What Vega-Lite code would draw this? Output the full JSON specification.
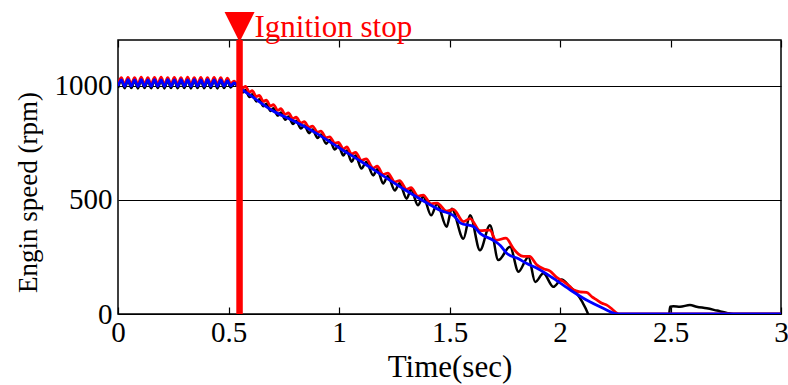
{
  "$schema": "https://vega.github.io/schema/vega-lite/v6.json",
  "width": 663,
  "height": 274,
  "autosize": {"type": "none"},
  "padding": {"left": 118, "top": 40, "right": 7, "bottom": 71},
  "background": "white",
  "config": {
    "view": {"stroke": "black", "strokeWidth": 1.5},
    "font": "Liberation Serif",
    "axis": {"labelFont": "Liberation Serif", "titleFont": "Liberation Serif", "labelColor": "black", "titleColor": "black", "titleFontWeight": "normal", "domain": false}
  },
  "datasets": {
    "black": [
      {"t":0,"v":990},{"t":0.015,"v":1022},{"t":0.03,"v":989},{"t":0.045,"v":1023},{"t":0.06,"v":990},{"t":0.075,"v":1022},{"t":0.09,"v":988},{"t":0.105,"v":1024},{"t":0.12,"v":990},{"t":0.135,"v":1022},{"t":0.15,"v":989},{"t":0.165,"v":1023},{"t":0.18,"v":990},{"t":0.195,"v":1024},{"t":0.21,"v":988},{"t":0.225,"v":1022},{"t":0.24,"v":990},{"t":0.255,"v":1023},{"t":0.27,"v":989},{"t":0.285,"v":1022},{"t":0.3,"v":990},{"t":0.315,"v":1024},{"t":0.33,"v":988},{"t":0.345,"v":1022},{"t":0.36,"v":990},{"t":0.375,"v":1023},{"t":0.39,"v":989},{"t":0.405,"v":1022},{"t":0.42,"v":990},{"t":0.435,"v":1023},{"t":0.45,"v":988},{"t":0.465,"v":1022},{"t":0.48,"v":990},{"t":0.495,"v":1020},{"t":0.51,"v":992},{"t":0.525,"v":1008},{"t":0.55,"v":990},
      {"t":0.565,"v":970},{"t":0.577,"v":981},{"t":0.595,"v":950},{"t":0.607,"v":962},{"t":0.626,"v":931},{"t":0.639,"v":941},{"t":0.658,"v":910},{"t":0.671,"v":921},{"t":0.69,"v":889},{"t":0.703,"v":901},{"t":0.723,"v":869},{"t":0.737,"v":883},{"t":0.757,"v":851},{"t":0.771,"v":865},{"t":0.792,"v":832},{"t":0.806,"v":846},{"t":0.828,"v":812},{"t":0.843,"v":826},{"t":0.865,"v":792},{"t":0.88,"v":808},{"t":0.903,"v":771},{"t":0.918,"v":786},{"t":0.942,"v":746},{"t":0.958,"v":762},{"t":0.981,"v":720},{"t":0.997,"v":738},
      {"t":1.02,"v":694},{"t":1.035,"v":716},{"t":1.057,"v":667},{"t":1.075,"v":694},{"t":1.102,"v":637},{"t":1.123,"v":666},{"t":1.155,"v":607},{"t":1.173,"v":634},{"t":1.2,"v":572},{"t":1.221,"v":604},{"t":1.253,"v":541},{"t":1.274,"v":573},{"t":1.306,"v":505},{"t":1.326,"v":545},{"t":1.357,"v":476},{"t":1.381,"v":514},{"t":1.417,"v":432},{"t":1.444,"v":482},{"t":1.487,"v":382},{"t":1.51,"v":461},{"t":1.563,"v":330},{"t":1.593,"v":432},{"t":1.638,"v":279},{"t":1.683,"v":389},{"t":1.721,"v":236},{"t":1.774,"v":294},{"t":1.812,"v":185},{"t":1.857,"v":250},{"t":1.888,"v":140},{"t":1.925,"v":178},{"t":1.97,"v":119},{"t":2.007,"v":151},{"t":2.045,"v":119},{"t":2.075,"v":91},{"t":2.1,"v":54},{"t":2.125,"v":5},{"t":2.14,"v":-40},{"t":2.49,"v":-40},{"t":2.498,"v":32},{"t":2.513,"v":34},{"t":2.543,"v":32},{"t":2.588,"v":39},{"t":2.618,"v":32},{"t":2.664,"v":25},{"t":2.71,"v":15},{"t":2.755,"v":5},{"t":2.785,"v":0},{"t":3,"v":0}
    ],
    "red": [
      {"t":0,"v":1006},{"t":0.015,"v":1035},{"t":0.03,"v":1005},{"t":0.045,"v":1036},{"t":0.06,"v":1006},{"t":0.075,"v":1035},{"t":0.09,"v":1005},{"t":0.105,"v":1037},{"t":0.12,"v":1006},{"t":0.135,"v":1035},{"t":0.15,"v":1005},{"t":0.165,"v":1036},{"t":0.18,"v":1006},{"t":0.195,"v":1037},{"t":0.21,"v":1005},{"t":0.225,"v":1035},{"t":0.24,"v":1006},{"t":0.255,"v":1036},{"t":0.27,"v":1005},{"t":0.285,"v":1035},{"t":0.3,"v":1006},{"t":0.315,"v":1037},{"t":0.33,"v":1005},{"t":0.345,"v":1035},{"t":0.36,"v":1006},{"t":0.375,"v":1036},{"t":0.39,"v":1005},{"t":0.405,"v":1035},{"t":0.42,"v":1006},{"t":0.435,"v":1036},{"t":0.45,"v":1005},{"t":0.465,"v":1035},{"t":0.48,"v":1006},{"t":0.495,"v":1033},{"t":0.51,"v":1008},{"t":0.525,"v":1020},{"t":0.55,"v":994},
      {"t":0.565,"v":990},{"t":0.577,"v":997},{"t":0.595,"v":971},{"t":0.607,"v":978},{"t":0.626,"v":952},{"t":0.639,"v":957},{"t":0.658,"v":931},{"t":0.671,"v":937},{"t":0.69,"v":911},{"t":0.703,"v":917},{"t":0.723,"v":892},{"t":0.737,"v":899},{"t":0.757,"v":874},{"t":0.771,"v":881},{"t":0.792,"v":855},{"t":0.806,"v":862},{"t":0.828,"v":836},{"t":0.843,"v":842},{"t":0.865,"v":817},{"t":0.88,"v":823},{"t":0.903,"v":796},{"t":0.918,"v":801},{"t":0.942,"v":772},{"t":0.958,"v":776},{"t":0.981,"v":748},{"t":0.997,"v":752},
      {"t":1.02,"v":722},{"t":1.035,"v":732},{"t":1.057,"v":700},{"t":1.075,"v":708},{"t":1.102,"v":673},{"t":1.123,"v":679},{"t":1.155,"v":639},{"t":1.173,"v":647},{"t":1.2,"v":611},{"t":1.221,"v":617},{"t":1.253,"v":578},{"t":1.274,"v":584},{"t":1.306,"v":546},{"t":1.326,"v":553},{"t":1.357,"v":516},{"t":1.381,"v":521},{"t":1.417,"v":482},{"t":1.444,"v":486},{"t":1.487,"v":450},{"t":1.517,"v":458},{"t":1.563,"v":405},{"t":1.593,"v":418},{"t":1.638,"v":365},{"t":1.683,"v":367},{"t":1.71,"v":323},{"t":1.755,"v":332},{"t":1.79,"v":285},{"t":1.812,"v":262},{"t":1.835,"v":252},{"t":1.862,"v":252},{"t":1.895,"v":215},{"t":1.925,"v":198},{"t":1.955,"v":188},{"t":1.985,"v":160},{"t":2.015,"v":143},{"t":2.045,"v":120},{"t":2.06,"v":106},{"t":2.09,"v":97},{"t":2.12,"v":95},{"t":2.145,"v":75},{"t":2.166,"v":62},{"t":2.19,"v":47},{"t":2.21,"v":40},{"t":2.235,"v":22},{"t":2.258,"v":3},{"t":2.27,"v":0},{"t":3,"v":0}
    ],
    "blue": [
      {"t":0,"v":998},{"t":0.015,"v":1025},{"t":0.03,"v":997},{"t":0.045,"v":1026},{"t":0.06,"v":998},{"t":0.075,"v":1025},{"t":0.09,"v":997},{"t":0.105,"v":1026},{"t":0.12,"v":998},{"t":0.135,"v":1025},{"t":0.15,"v":997},{"t":0.165,"v":1026},{"t":0.18,"v":998},{"t":0.195,"v":1025},{"t":0.21,"v":997},{"t":0.225,"v":1026},{"t":0.24,"v":998},{"t":0.255,"v":1025},{"t":0.27,"v":997},{"t":0.285,"v":1026},{"t":0.3,"v":998},{"t":0.315,"v":1025},{"t":0.33,"v":997},{"t":0.345,"v":1026},{"t":0.36,"v":998},{"t":0.375,"v":1025},{"t":0.39,"v":997},{"t":0.405,"v":1026},{"t":0.42,"v":998},{"t":0.435,"v":1025},{"t":0.45,"v":997},{"t":0.465,"v":1025},{"t":0.48,"v":998},{"t":0.495,"v":1022},{"t":0.51,"v":999},{"t":0.525,"v":1012},{"t":0.55,"v":990},
      {"t":0.6,"v":957},{"t":0.7,"v":890},{"t":0.8,"v":843},{"t":0.9,"v":790},{"t":1.0,"v":728},{"t":1.1,"v":668},{"t":1.2,"v":605},{"t":1.3,"v":543},{"t":1.4,"v":485},{"t":1.46,"v":453},{"t":1.52,"v":430},{"t":1.55,"v":398},{"t":1.61,"v":382},{"t":1.64,"v":352},{"t":1.7,"v":322},{"t":1.73,"v":300},{"t":1.76,"v":265},{"t":1.81,"v":243},{"t":1.85,"v":221},{"t":1.9,"v":198},{"t":1.97,"v":156},{"t":2.05,"v":103},{"t":2.12,"v":61},{"t":2.2,"v":23},{"t":2.25,"v":2},{"t":2.28,"v":0},{"t":3,"v":0}
    ],
    "event": [{"t":0.55,"label":"Ignition stop"}]
  },
  "layer": [
    {
      "data": {"name": "black"},
      "mark": {"type": "line", "color": "black", "strokeWidth": 2.5, "clip": true, "interpolate": "monotone"},
      "encoding": {
        "x": {"field": "t", "type": "quantitative", "scale": {"domain": [0, 3], "nice": false, "zero": false},
              "axis": {"orient": "bottom", "values": [0, 0.5, 1, 1.5, 2, 2.5, 3], "format": "~g", "tickSize": -7, "tickColor": "black", "tickWidth": 1.2, "labelPadding": 11, "labelFont": "Liberation Serif", "labelFontSize": 29, "labelFlush": false, "grid": false, "title": "Time(sec)", "titleFont": "Liberation Serif", "titleFontSize": 31, "titlePadding": 5}},
        "y": {"field": "v", "type": "quantitative", "scale": {"domain": [0, 1200], "nice": false},
              "axis": {"orient": "left", "values": [0, 500, 1000], "format": "d", "ticks": false, "labelPadding": 6, "labelFont": "Liberation Serif", "labelFontSize": 29, "grid": true, "gridColor": "black", "gridOpacity": 1, "gridWidth": 1.2, "title": "Engin speed (rpm)", "titleFont": "Liberation Serif", "titleFontSize": 27, "titlePadding": 12, "titleY": 152}}
      }
    },
    {
      "data": {"name": "red"},
      "mark": {"type": "line", "color": "#ff0000", "strokeWidth": 2.8, "clip": true, "interpolate": "monotone"},
      "encoding": {
        "x": {"field": "t", "type": "quantitative", "axis": null},
        "y": {"field": "v", "type": "quantitative", "axis": null}
      }
    },
    {
      "data": {"name": "blue"},
      "mark": {"type": "line", "color": "#0000ff", "strokeWidth": 2.8, "clip": true, "interpolate": "monotone"},
      "encoding": {
        "x": {"field": "t", "type": "quantitative",
              "axis": {"orient": "top", "values": [0, 0.5, 1, 1.5, 2, 2.5, 3], "labels": false, "tickSize": -7, "tickColor": "black", "tickWidth": 1.2, "grid": false, "title": null}},
        "y": {"field": "v", "type": "quantitative", "axis": null}
      }
    },
    {
      "data": {"name": "event"},
      "mark": {"type": "rule", "color": "#ff0000", "strokeWidth": 6.5, "clip": false},
      "encoding": {
        "x": {"field": "t", "type": "quantitative", "axis": null},
        "y": {"datum": 0, "axis": null},
        "y2": {"datum": 1200}
      }
    },
    {
      "data": {"name": "event"},
      "mark": {"type": "point", "shape": "M-1,-1L1,-1L0,1Z", "size": 900, "filled": true, "color": "#ff0000", "opacity": 1, "clip": false},
      "encoding": {
        "x": {"field": "t", "type": "quantitative", "axis": null},
        "y": {"datum": 1257, "axis": null}
      }
    },
    {
      "data": {"name": "event"},
      "mark": {"type": "text", "color": "#ff0000", "font": "Liberation Serif", "fontSize": 31, "align": "left", "baseline": "alphabetic", "dx": 15, "clip": false},
      "encoding": {
        "x": {"field": "t", "type": "quantitative", "axis": null},
        "y": {"datum": 1213, "axis": null},
        "text": {"field": "label"}
      }
    }
  ],
  "resolve": {"axis": {"x": "independent", "y": "independent"}}
}
